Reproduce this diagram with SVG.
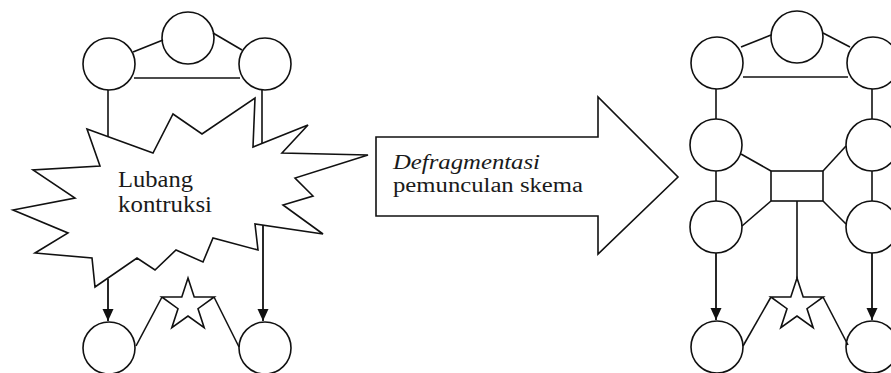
<svg xmlns="http://www.w3.org/2000/svg" width="891" height="373" viewBox="0 0 891 373">
  <style>
    .n { fill: #fff; stroke: #111; stroke-width: 1.6; }
    .e { fill: none; stroke: #111; stroke-width: 1.6; }
    .a { fill: none; stroke: #111; stroke-width: 1.8; marker-end: url(#head); }
    .t { font-family: "Liberation Serif", "Times New Roman", serif; font-size: 23px; fill: #1a1a1a; }
    .s { font-size: 20px; }
    .i { font-style: italic; }
  </style>
  <defs>
    <marker id="head" markerUnits="userSpaceOnUse" markerWidth="12" markerHeight="12" viewBox="0 0 12 12" refX="12" refY="6" orient="auto">
      <path d="M0,0.5 L12,6 L0,11.5 z" fill="#111"/>
    </marker>
    <!-- regular five-point star centred at origin -->
    <polygon id="star" points="0,-27.5 6.2,-8.5 26.2,-8.5 10,3.2 16.2,22.2 0,10.5 -16.2,22.2 -10,3.2 -26.2,-8.5 -6.2,-8.5"/>
  </defs>

  <rect width="891" height="373" fill="#fff"/>

  <!-- left graph: nodes -->
  <g id="L-top-left"><circle class="n" cx="109" cy="64" r="26"/></g>
  <g id="L-top-mid"><circle class="n" cx="188" cy="38" r="26"/></g>
  <g id="L-top-right"><circle class="n" cx="265" cy="64" r="26"/></g>
  <g id="L-bot-left"><circle class="n" cx="109" cy="348" r="26"/></g>
  <g id="L-bot-right"><circle class="n" cx="265" cy="348" r="26"/></g>
  <g id="L-star"><use href="#star" x="188" y="305.5" class="n"/></g>

  <!-- left graph: connectors -->
  <g id="L-edges">
    <line class="e" x1="133" y1="52" x2="163" y2="40"/>
    <line class="e" x1="213" y1="33" x2="242" y2="50"/>
    <line class="e" x1="134" y1="78" x2="240" y2="78"/>
    <line class="e" x1="108" y1="90" x2="108" y2="137"/>
    <line class="e" x1="262" y1="90" x2="262" y2="144"/>
    <line class="e" x1="136" y1="346" x2="162" y2="297"/>
    <line class="e" x1="214" y1="297" x2="239" y2="347"/>
  </g>

  <!-- construction hole -->
  <g id="hole">
    <polygon class="n" points="87,129 153,153 173,114 202,134 255,98 253,147 308,125 282,153 368,155 295,178 313,196 283,205 323,234 255,224 258,250 213,238 203,262 176,250 155,270 137,258 95,287 92,258 35,253 68,233 13,210 75,198 33,170 100,166"/>
    <text class="t" x="118" y="187" textLength="75" lengthAdjust="spacingAndGlyphs">Lubang</text>
    <text class="t" x="118" y="212" textLength="94" lengthAdjust="spacingAndGlyphs">kontruksi</text>
  </g>

  <g id="L-arrows">
    <line class="a" x1="108" y1="279" x2="108" y2="321"/>
    <line class="a" x1="263" y1="225" x2="263" y2="321"/>
  </g>

  <!-- transition arrow -->
  <g id="transition">
    <polygon class="n" points="376,137 598,137 598,97 678,177 598,254 598,216 376,216"/>
    <text class="t s i" x="393" y="169" textLength="147" lengthAdjust="spacingAndGlyphs">Defragmentasi</text>
    <text class="t s" x="393" y="192" textLength="190" lengthAdjust="spacingAndGlyphs">pemunculan skema</text>
  </g>

  <!-- right graph: nodes -->
  <g id="R-top-left"><circle class="n" cx="717" cy="63" r="26"/></g>
  <g id="R-top-mid"><circle class="n" cx="797" cy="37" r="26"/></g>
  <g id="R-top-right"><circle class="n" cx="873" cy="63" r="26"/></g>
  <g id="R-mid-left"><circle class="n" cx="716" cy="145" r="26"/></g>
  <g id="R-mid-right"><circle class="n" cx="872" cy="145" r="26"/></g>
  <g id="R-hub"><rect class="n" x="771" y="171" width="52" height="30"/></g>
  <g id="R-low-left"><circle class="n" cx="716" cy="227" r="26"/></g>
  <g id="R-low-right"><circle class="n" cx="872" cy="227" r="26"/></g>
  <g id="R-bot-left"><circle class="n" cx="717" cy="347" r="26"/></g>
  <g id="R-bot-right"><circle class="n" cx="872" cy="347" r="26"/></g>
  <g id="R-star"><use href="#star" x="797" y="305.5" class="n"/></g>

  <!-- right graph: connectors -->
  <g id="R-edges">
    <line class="e" x1="741" y1="47" x2="771" y2="35"/>
    <line class="e" x1="823" y1="33" x2="850" y2="47"/>
    <line class="e" x1="743" y1="77" x2="848" y2="77"/>
    <line class="e" x1="716" y1="89" x2="716" y2="119"/>
    <line class="e" x1="872" y1="89" x2="872" y2="119"/>
    <line class="e" x1="741" y1="154" x2="771" y2="171"/>
    <line class="e" x1="846" y1="146" x2="823" y2="171"/>
    <line class="e" x1="716" y1="171" x2="716" y2="201"/>
    <line class="e" x1="872" y1="171" x2="872" y2="201"/>
    <line class="e" x1="771" y1="201" x2="742" y2="226"/>
    <line class="e" x1="823" y1="201" x2="846" y2="224"/>
    <line class="e" x1="797" y1="201" x2="797" y2="278"/>
    <line class="e" x1="743" y1="346" x2="771" y2="297"/>
    <line class="e" x1="823" y1="297" x2="848" y2="345"/>
    <line class="a" x1="716" y1="253" x2="716" y2="320"/>
    <line class="a" x1="872" y1="253" x2="872" y2="320"/>
  </g>
</svg>
